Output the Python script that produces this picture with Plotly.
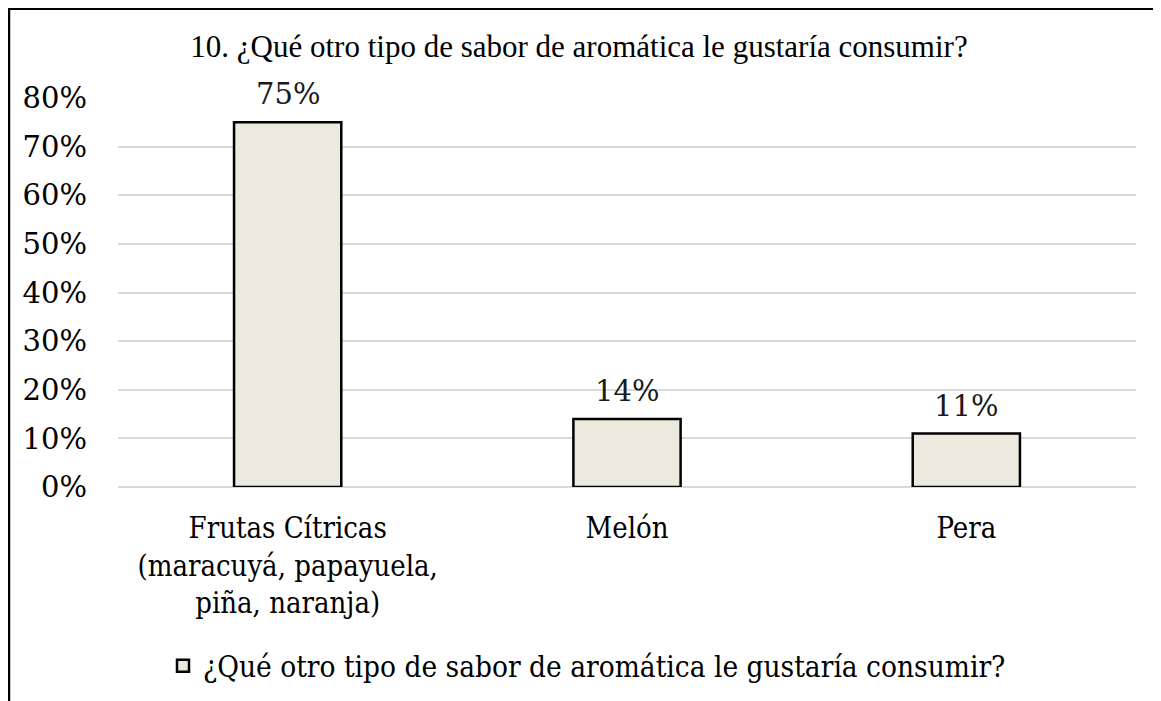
import plotly.graph_objects as go

categories = ["Frutas Cítricas<br>(maracuyá, papayuela,<br>piña, naranja)", "Melón", "Pera"]
values = [75, 14, 11]
labels = ["75%", "14%", "11%"]
series_name = "¿Qué otro tipo de sabor de aromática le gustaría consumir?"
title_text = "10. ¿Qué otro tipo de sabor de aromática le gustaría consumir?"
y_ticks = [0, 10, 20, 30, 40, 50, 60, 70, 80]
y_ticklabels = [f"{v}%" for v in y_ticks]

W, H = 1161, 701
L, R, T, B = 110, 33, 90, 222
pw, ph = W - L - R, H - T - B

def px_x(x):
    return (x - L) / pw

def px_y(y):
    return 1 - (y - T) / ph

serif = "Liberation Serif, Times New Roman, serif"
body = "DejaVu Serif Condensed, DejaVu Serif, Cambria, serif"
body_wide = "DejaVu Serif, Cambria, serif"
FS = 29

fig = go.Figure()
fig.add_trace(go.Bar(
    x=categories, y=values, name=series_name,
    marker=dict(color="#ECE9DE", line=dict(color="#000000", width=2.5)),
    width=0.316,
))

for c, v, t in zip(categories, values, labels):
    fig.add_annotation(x=c, y=v, text=t, showarrow=False, yanchor="bottom",
                       yshift=9, font=dict(family=body_wide, size=FS, color="#1a1a1a"))

fig.update_layout(
    width=W, height=H,
    margin=dict(l=L, r=R, t=T, b=B, autoexpand=False),
    paper_bgcolor="white", plot_bgcolor="white",
    title=dict(text=title_text, x=571 / W, xanchor="center", xref="container",
               y=1 - 38.5 / H, yanchor="middle", yref="container",
               font=dict(family=serif, size=31, color="#000000")),
    showlegend=True,
    legend=dict(orientation="h", x=155 / W, xanchor="left", xref="container",
                y=1 - 658 / H, yanchor="middle", yref="container",
                font=dict(family=body, size=29.5, color="#000000"),
                itemwidth=30),
    xaxis=dict(showgrid=False, showline=False, ticks="", ticklabelstandoff=21,
               tickfont=dict(family=body, size=FS, color="#000000")),
    yaxis=dict(range=[0, 80], tickvals=y_ticks, ticktext=y_ticklabels,
               showgrid=True, gridcolor="#D9D9D9", gridwidth=1.5,
               zeroline=True, zerolinecolor="#D9D9D9", zerolinewidth=1.5,
               showline=False, ticks="", ticklabelstandoff=30,
               tickfont=dict(family=body_wide, size=FS, color="#000000")),
)

# outer chart frame: left and top edges (right/bottom fall outside the view)
fig.add_shape(type="line", xref="paper", yref="paper",
              x0=px_x(1), x1=px_x(1), y0=px_y(760), y1=px_y(0),
              line=dict(color="#000000", width=2.5))
fig.add_shape(type="line", xref="paper", yref="paper",
              x0=px_x(0), x1=px_x(1220), y0=px_y(0.8), y1=px_y(0.8),
              line=dict(color="#000000", width=2.5))

fig.write_html("out.html")
